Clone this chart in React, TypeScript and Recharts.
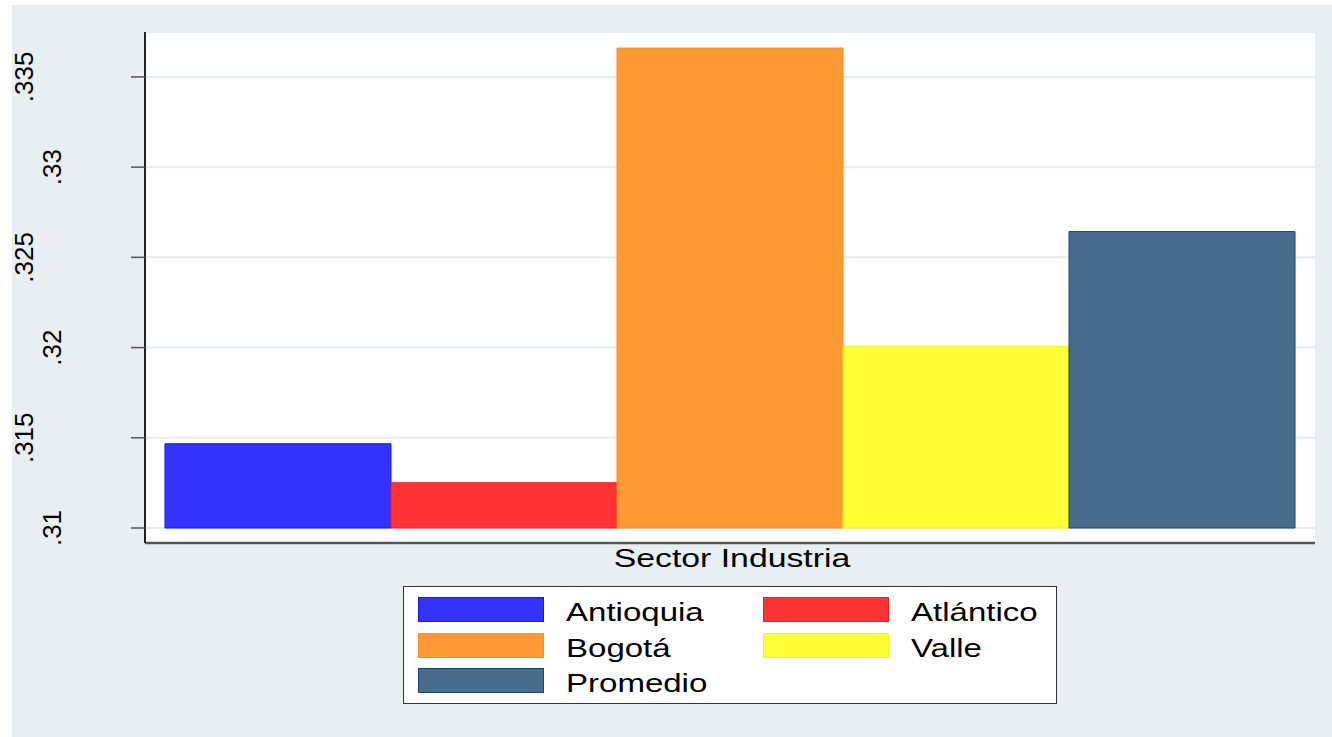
import { BarChart, Bar, XAxis, YAxis, CartesianGrid, Legend } from "recharts";

// regions shown as bars (one series each)
const regions = ["Antioquia", "Atlántico", "Bogotá", "Valle", "Promedio"];
const values = [0.31467, 0.31251, 0.3366, 0.32007, 0.32643];
const categories = ["Sector Industria"];

// y axis
const yTicks = [0.31, 0.315, 0.32, 0.325, 0.33, 0.335];
const yTickLabels = [".31", ".315", ".32", ".325", ".33", ".335"];
const yDomain = [0.31, 0.33749];

const fills = ["#3333ff", "#ff3333", "#ff9933", "#ffff33", "#486c8e"];
const strokes = ["#1414ff", "#ff1a1a", "#ff8a1f", "#f5f51a", "#1e4669"];

const FONT = "'Liberation Sans', Arial, sans-serif";

const data = categories.map((name) => {
    const row: Record<string, string | number> = { name };
    regions.forEach((r, i) => {
        row[r] = values[i];
    });
    return row;
});

function YTick(props: any) {
    const { x, y, payload } = props;
    const i = yTicks.indexOf(payload.value);
    // labels alternate between two columns
    const bx = i % 2 === 0 ? x - 70 : x - 98;
    return (
        <text
            x={bx}
            y={y}
            transform={`rotate(-90, ${bx}, ${y})`}
            textAnchor="middle"
            fontSize={26}
            fontFamily={FONT}
            fill="#000"
        >
            {yTickLabels[i]}
        </text>
    );
}

function XTick(props: any) {
    const { x, y, payload } = props;
    return (
        <text
            transform={`translate(${x + 2}, ${y + 24}) scale(1.3, 1)`}
            textAnchor="middle"
            fontSize={26}
            fontFamily={FONT}
            fill="#000"
        >
            {payload.value}
        </text>
    );
}

function LegendBox() {
    return (
        <div
            style={{
                width: 654,
                height: 118,
                boxSizing: "border-box",
                border: "1.5px solid #333",
                background: "#fff",
                position: "relative",
                fontFamily: FONT,
            }}
        >
            {regions.map((r, i) => {
                const col = i % 2;
                const row = Math.floor(i / 2);
                return (
                    <div
                        key={r}
                        style={{
                            position: "absolute",
                            left: 14 + col * 345,
                            top: 10 + row * 35.5,
                            height: 25,
                            display: "flex",
                            alignItems: "center",
                        }}
                    >
                        <div
                            style={{
                                width: 126,
                                height: 25,
                                boxSizing: "border-box",
                                background: fills[i],
                                border: `1px solid ${strokes[i]}`,
                            }}
                        />
                        <span
                            style={{
                                marginLeft: 22,
                                fontSize: 26,
                                lineHeight: "25px",
                                display: "inline-block",
                                position: "relative",
                                top: 3,
                                transform: "scaleX(1.27)",
                                transformOrigin: "left center",
                                whiteSpace: "nowrap",
                                color: "#000",
                            }}
                        >
                            {r}
                        </span>
                    </div>
                );
            })}
        </div>
    );
}

export default function App() {
    return (
        <div style={{ position: "absolute", left: 0, top: 0, width: 1332, height: 737, background: "#fff" }}>
            <div style={{ position: "absolute", left: 12, top: 5, right: 0, bottom: 0, background: "#e8eff2" }} />
            <div style={{ position: "absolute", left: 0, top: 0 }}>
                <BarChart
                    width={1332}
                    height={737}
                    data={data}
                    margin={{ top: 32, right: 17, bottom: 164, left: 0 }}
                    barCategoryGap={20}
                    barGap={0}
                >
                    <CartesianGrid vertical={false} fill="#fff" stroke="#e3edf2" strokeWidth={2} />
                    <XAxis
                        dataKey="name"
                        height={30}
                        tickSize={0}
                        tickMargin={0}
                        tick={<XTick />}
                        axisLine={{ stroke: "#555", strokeWidth: 2.5 }}
                        tickLine={false}
                    />
                    <YAxis
                        width={145}
                        domain={yDomain}
                        ticks={yTicks}
                        padding={{ top: 0, bottom: 15 }}
                        tickSize={14}
                        tickMargin={0}
                        tick={<YTick />}
                        axisLine={{ stroke: "#222", strokeWidth: 2 }}
                        tickLine={{ stroke: "#555", strokeWidth: 1.5 }}
                    />
                    {regions.map((r, i) => (
                        <Bar
                            key={r}
                            dataKey={r}
                            fill={fills[i]}
                            stroke={strokes[i]}
                            strokeWidth={1}
                            isAnimationActive={false}
                        />
                    ))}
                    <Legend
                        layout="vertical"
                        align="center"
                        verticalAlign="middle"
                        wrapperStyle={{ left: 403, top: 586, width: 654, height: 118 }}
                        content={<LegendBox />}
                    />
                </BarChart>
            </div>
        </div>
    );
}
